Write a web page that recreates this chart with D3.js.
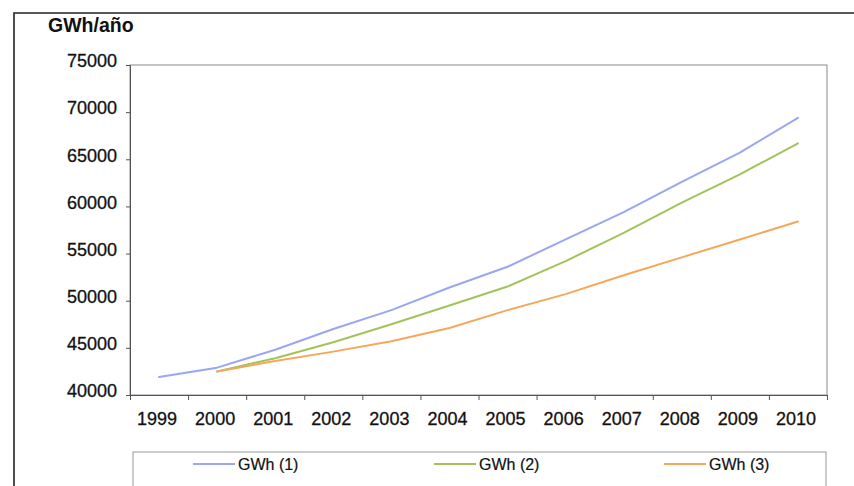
<!DOCTYPE html>
<html>
<head>
<meta charset="utf-8">
<script src="https://cdn.jsdelivr.net/npm/d3@7"></script>
<style>
  html, body { margin: 0; padding: 0; background: #fff; }
  svg { display: block; font-family: "Liberation Sans", Arial, sans-serif; }
</style>
</head>
<body>
<svg id="chart" width="854" height="486"></svg>
<script>
// Annual electricity demand, three projections (GWh/año)
const years = ["1999", "2000", "2001", "2002", "2003", "2004", "2005", "2006", "2007", "2008", "2009", "2010"];
const gwh1 = [41900, 42900, 44800, 47000, 49000, 51400, 53600, 56500, 59400, 62600, 65700, 69400];
const gwh2 = [null, 42500, 43900, 45600, 47500, 49500, 51500, 54200, 57200, 60400, 63400, 66700];
const gwh3 = [null, 42500, 43600, 44600, 45700, 47100, 49000, 50700, 52700, 54600, 56500, 58400];
const yTicks = [40000, 45000, 50000, 55000, 60000, 65000, 70000, 75000];
const seriesNames = ["GWh (1)", "GWh (2)", "GWh (3)"];
const seriesColors = ["#9aa6f2", "#a2c35a", "#f6a75a"];

const svg = d3.select("#chart");

const plot = { left: 130, right: 827, top: 65, bottom: 395 };

const x = d3.scaleBand().domain(years).range([plot.left, plot.right]);
const xEdges = d3.scaleLinear().domain([0, years.length]).range([plot.left, plot.right]);
const y = d3.scaleLinear().domain([40000, 75000]).range([plot.bottom, plot.top]);

// outer frame (left and top edges visible)
svg.append("path")
  .attr("d", "M14,486 L14,13 L854,13")
  .attr("fill", "none")
  .attr("stroke", "#222")
  .attr("stroke-width", 1.6);

// unit title
svg.append("text")
  .attr("x", 48).attr("y", 32)
  .attr("font-size", 19.5).attr("font-weight", "bold")
  .attr("fill", "#111")
  .text("GWh/año");

// plot area frame
svg.append("rect")
  .attr("x", plot.left).attr("y", plot.top)
  .attr("width", plot.right - plot.left).attr("height", plot.bottom - plot.top)
  .attr("fill", "#fff")
  .attr("stroke", "#8a8a8a").attr("stroke-width", 1);

// y axis
const yAxis = svg.append("g")
  .attr("transform", `translate(${plot.left},0)`)
  .call(d3.axisLeft(y).tickValues(yTicks).tickSize(4).tickPadding(9).tickFormat(d3.format("d")));
yAxis.select(".domain").attr("stroke", "#555");
yAxis.selectAll(".tick line").attr("stroke", "#555");
yAxis.selectAll(".tick text")
  .attr("font-size", 18).attr("fill", "#111")
  .attr("stroke", "#111").attr("stroke-width", 0.3)
  .attr("font-family", "Liberation Sans, Arial, sans-serif")
  .attr("dy", "0.1em");

// x axis: tick marks at category boundaries
const xTickAxis = svg.append("g")
  .attr("transform", `translate(0,${plot.bottom})`)
  .call(d3.axisBottom(xEdges).ticks(years.length).tickSize(5).tickFormat(""));
xTickAxis.select(".domain").attr("stroke", "#555");
xTickAxis.selectAll(".tick line").attr("stroke", "#555");

// x axis: category labels
const xLabelAxis = svg.append("g")
  .attr("transform", `translate(0,${plot.bottom})`)
  .call(d3.axisBottom(x).tickSize(0).tickPadding(17));
xLabelAxis.select(".domain").remove();
xLabelAxis.selectAll(".tick text")
  .attr("font-size", 18).attr("fill", "#111")
  .attr("stroke", "#111").attr("stroke-width", 0.3)
  .attr("font-family", "Liberation Sans, Arial, sans-serif")
  .attr("dx", "-2");

// series lines
const allSeries = [gwh1, gwh2, gwh3];
const line = d3.line()
  .defined(d => d.v != null)
  .x(d => x(d.year) + x.bandwidth() / 2)
  .y(d => y(d.v));

allSeries.forEach((vals, i) => {
  const pts = years.map((yr, j) => ({ year: yr, v: vals[j] }));
  svg.append("path")
    .datum(pts)
    .attr("fill", "none")
    .attr("stroke", seriesColors[i])
    .attr("stroke-width", 2)
    .attr("stroke-linejoin", "round")
    .attr("stroke-linecap", "round")
    .attr("d", line);
});

// legend
const legend = { left: 133, right: 826, top: 452 };
svg.append("rect")
  .attr("x", legend.left).attr("y", legend.top)
  .attr("width", legend.right - legend.left).attr("height", 60)
  .attr("fill", "#fff")
  .attr("stroke", "#9a9a9a").attr("stroke-width", 1);

const legendOffsets = [60, 301, 531];
seriesNames.forEach((name, i) => {
  const gx = legend.left + legendOffsets[i];
  const g = svg.append("g").attr("transform", `translate(${gx},${legend.top + 12})`);
  g.append("line")
    .attr("x1", 0).attr("x2", 42).attr("y1", 0).attr("y2", 0)
    .attr("stroke", seriesColors[i]).attr("stroke-width", 2);
  g.append("text")
    .attr("x", 45).attr("y", 0).attr("dy", "0.35em")
    .attr("font-size", 16).attr("fill", "#111")
    .attr("stroke", "#111").attr("stroke-width", 0.2)
    .text(name);
});
</script>
</body>
</html>
